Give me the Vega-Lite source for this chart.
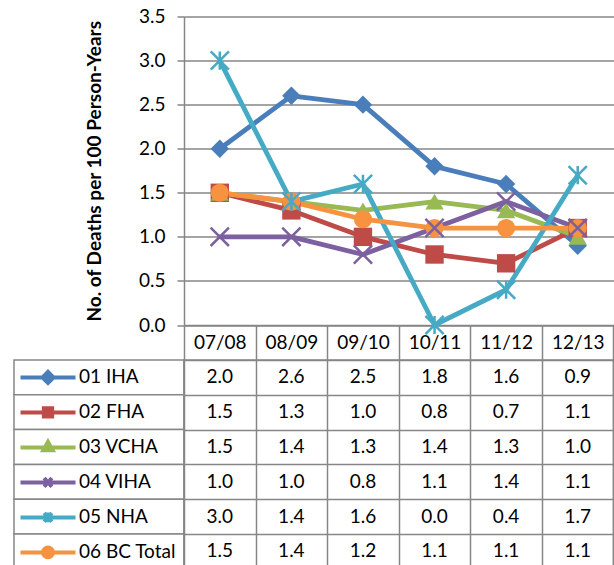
{
  "$schema": "https://vega.github.io/schema/vega-lite/v6.json",
  "padding": {"left": 13, "top": 7.5, "right": 0, "bottom": 0},
  "config": {
    "view": {"stroke": null},
    "font": "Lato",
    "text": {"font": "Lato"}
  },
  "datasets": {
    "d": [
      {"series": "01 IHA", "period": "07/08", "value": 2.0},
      {"series": "01 IHA", "period": "08/09", "value": 2.6},
      {"series": "01 IHA", "period": "09/10", "value": 2.5},
      {"series": "01 IHA", "period": "10/11", "value": 1.8},
      {"series": "01 IHA", "period": "11/12", "value": 1.6},
      {"series": "01 IHA", "period": "12/13", "value": 0.9},
      {"series": "02 FHA", "period": "07/08", "value": 1.5},
      {"series": "02 FHA", "period": "08/09", "value": 1.3},
      {"series": "02 FHA", "period": "09/10", "value": 1.0},
      {"series": "02 FHA", "period": "10/11", "value": 0.8},
      {"series": "02 FHA", "period": "11/12", "value": 0.7},
      {"series": "02 FHA", "period": "12/13", "value": 1.1},
      {"series": "03 VCHA", "period": "07/08", "value": 1.5},
      {"series": "03 VCHA", "period": "08/09", "value": 1.4},
      {"series": "03 VCHA", "period": "09/10", "value": 1.3},
      {"series": "03 VCHA", "period": "10/11", "value": 1.4},
      {"series": "03 VCHA", "period": "11/12", "value": 1.3},
      {"series": "03 VCHA", "period": "12/13", "value": 1.0},
      {"series": "04 VIHA", "period": "07/08", "value": 1.0},
      {"series": "04 VIHA", "period": "08/09", "value": 1.0},
      {"series": "04 VIHA", "period": "09/10", "value": 0.8},
      {"series": "04 VIHA", "period": "10/11", "value": 1.1},
      {"series": "04 VIHA", "period": "11/12", "value": 1.4},
      {"series": "04 VIHA", "period": "12/13", "value": 1.1},
      {"series": "05 NHA", "period": "07/08", "value": 3.0},
      {"series": "05 NHA", "period": "08/09", "value": 1.4},
      {"series": "05 NHA", "period": "09/10", "value": 1.6},
      {"series": "05 NHA", "period": "10/11", "value": 0.0},
      {"series": "05 NHA", "period": "11/12", "value": 0.4},
      {"series": "05 NHA", "period": "12/13", "value": 1.7},
      {"series": "06 BC Total", "period": "07/08", "value": 1.5},
      {"series": "06 BC Total", "period": "08/09", "value": 1.4},
      {"series": "06 BC Total", "period": "09/10", "value": 1.2},
      {"series": "06 BC Total", "period": "10/11", "value": 1.1},
      {"series": "06 BC Total", "period": "11/12", "value": 1.1},
      {"series": "06 BC Total", "period": "12/13", "value": 1.1}
    ]
  },
  "columns": 2,
  "spacing": {"row": 34.5, "column": 0},
  "bounds": "flush",
  "resolve": {
    "scale": {"color": "independent", "shape": "independent", "size": "independent", "fill": "independent", "stroke": "independent"},
    "legend": {"color": "independent", "shape": "independent", "size": "independent", "fill": "independent", "stroke": "independent"}
  },
  "concat": [
    {
      "width": 170,
      "height": 308.5,
      "data": {"values": []},
      "mark": "point"
    },
    {
      "width": 429.5,
      "height": 308.5,
      "data": {"name": "d"},
      "encoding": {
        "x": {
          "field": "period", "type": "nominal",
          "scale": {"type": "band", "paddingInner": 0, "paddingOuter": 0},
          "axis": {
            "orient": "bottom", "title": null, "labelAngle": 0,
            "labelFontSize": 19, "labelColor": "#000", "labelBaseline": "middle",
            "labelPadding": -17.25, "tickBand": "extent", "tickSize": 34.5,
            "tickColor": "#868686", "tickWidth": 1.5,
            "domainColor": "#868686", "domainWidth": 1.5, "grid": false
          }
        },
        "y": {
          "field": "value", "type": "quantitative",
          "scale": {"domain": [0, 3.5], "nice": false, "zero": true},
          "axis": {
            "title": "No. of Deaths per 100 Person-Years",
            "titleFontSize": 19, "titleFontWeight": "bold", "titleColor": "#000",
            "titlePadding": 34,
            "values": [0, 0.5, 1, 1.5, 2, 2.5, 3, 3.5], "format": ".1f",
            "labelFontSize": 19, "labelColor": "#000", "labelPadding": 12,
            "tickSize": 7, "tickColor": "#868686", "tickWidth": 1.5,
            "domainColor": "#868686", "domainWidth": 1.5,
            "grid": true, "gridColor": "#868686", "gridWidth": 1.5
          }
        }
      },
      "layer": [
        {
          "mark": {"type": "line", "strokeWidth": 4.8, "strokeJoin": "round", "strokeCap": "round"},
          "encoding": {
            "color": {
              "field": "series", "type": "nominal", "legend": null,
              "scale": {
                "domain": ["01 IHA", "02 FHA", "03 VCHA", "04 VIHA", "05 NHA", "06 BC Total"],
                "range": ["#4A7EBB", "#BE4B48", "#98B954", "#7D60A0", "#46AAC5", "#F69240"]
              }
            }
          }
        },
        {
          "transform": [{"filter": "datum.series != '04 VIHA' && datum.series != '05 NHA'"}],
          "mark": {"type": "point", "filled": true, "opacity": 1},
          "encoding": {
            "color": {
              "field": "series", "type": "nominal", "legend": null,
              "scale": {
                "domain": ["01 IHA", "02 FHA", "03 VCHA", "04 VIHA", "05 NHA", "06 BC Total"],
                "range": ["#4A7EBB", "#BE4B48", "#98B954", "#7D60A0", "#46AAC5", "#F69240"]
              }
            },
            "shape": {
              "field": "series", "type": "nominal", "legend": null,
              "scale": {
                "domain": ["01 IHA", "02 FHA", "03 VCHA", "04 VIHA", "05 NHA", "06 BC Total"],
                "range": ["diamond", "square", "triangle-up", "M-1,-1L1,1M-1,1L1,-1", "M-1,-1L1,1M-1,1L1,-1M0,-1L0,1", "circle"]
              }
            },
            "size": {
              "field": "series", "type": "nominal", "legend": null,
              "scale": {
                "domain": ["01 IHA", "02 FHA", "03 VCHA", "04 VIHA", "05 NHA", "06 BC Total"],
                "range": [340, 330, 330, 300, 330, 350]
              }
            }
          }
        },
        {
          "transform": [{"filter": "datum.series == '04 VIHA' || datum.series == '05 NHA'"}],
          "mark": {"type": "point", "filled": false, "opacity": 1, "strokeWidth": 2.5},
          "encoding": {
            "color": {
              "field": "series", "type": "nominal", "legend": null,
              "scale": {
                "domain": ["01 IHA", "02 FHA", "03 VCHA", "04 VIHA", "05 NHA", "06 BC Total"],
                "range": ["#4A7EBB", "#BE4B48", "#98B954", "#7D60A0", "#46AAC5", "#F69240"]
              }
            },
            "shape": {
              "field": "series", "type": "nominal", "legend": null,
              "scale": {
                "domain": ["01 IHA", "02 FHA", "03 VCHA", "04 VIHA", "05 NHA", "06 BC Total"],
                "range": ["diamond", "square", "triangle-up", "M-1,-1L1,1M-1,1L1,-1", "M-1,-1L1,1M-1,1L1,-1M0,-1L0,1", "circle"]
              }
            },
            "size": {
              "field": "series", "type": "nominal", "legend": null,
              "scale": {
                "domain": ["01 IHA", "02 FHA", "03 VCHA", "04 VIHA", "05 NHA", "06 BC Total"],
                "range": [340, 330, 330, 300, 330, 350]
              }
            }
          }
        }
      ]
    },
    {
      "width": 170,
      "height": 208.8,
      "data": {"name": "d"},
      "transform": [{"filter": "datum.period == '07/08'"}],
      "encoding": {
        "y": {
          "field": "series", "type": "nominal",
          "scale": {"type": "band", "paddingInner": 0, "paddingOuter": 0},
          "axis": null
        }
      },
      "layer": [
        {"mark": {"type": "rect", "fill": "white", "stroke": "#868686", "strokeWidth": 1.5}},
        {
          "mark": {"type": "point", "filled": true, "opacity": 0, "size": 3025, "strokeWidth": 4},
          "encoding": {
            "fill": {
              "field": "series", "type": "nominal",
              "scale": {
                "domain": ["01 IHA", "02 FHA", "03 VCHA", "04 VIHA", "05 NHA", "06 BC Total"],
                "range": ["#4A7EBB", "#BE4B48", "#98B954", "#7D60A0", "#46AAC5", "#F69240"]
              },
              "legend": {
                "orient": "none", "legendX": 4.5, "legendY": 0, "title": null,
                "labelFontSize": 19, "labelColor": "#000", "labelOffset": 1.5, "labelLimit": 200,
                "symbolSize": 3025, "symbolStrokeWidth": 4, "symbolOpacity": 1,
                "clipHeight": 34.8, "rowPadding": 0, "padding": 0
              }
            },
            "stroke": {
              "field": "series", "type": "nominal",
              "scale": {
                "domain": ["01 IHA", "02 FHA", "03 VCHA", "04 VIHA", "05 NHA", "06 BC Total"],
                "range": ["#4A7EBB", "#BE4B48", "#98B954", "#7D60A0", "#46AAC5", "#F69240"]
              },
              "legend": {
                "orient": "none", "legendX": 4.5, "legendY": 0, "title": null,
                "labelFontSize": 19, "labelColor": "#000", "labelOffset": 1.5, "labelLimit": 200,
                "symbolSize": 3025, "symbolStrokeWidth": 4, "symbolOpacity": 1,
                "clipHeight": 34.8, "rowPadding": 0, "padding": 0
              }
            },
            "shape": {
              "field": "series", "type": "nominal",
              "scale": {
                "domain": ["01 IHA", "02 FHA", "03 VCHA", "04 VIHA", "05 NHA", "06 BC Total"],
                "range": [
                  "M-1,0L1,0M0,-0.2L0.2,0L0,0.2L-0.2,0Z",
                  "M-1,0L1,0M-0.15,-0.15L0.15,-0.15L0.15,0.15L-0.15,0.15Z",
                  "M-1,0L1,0M0,-0.2L0.17,0.1L-0.17,0.1Z",
                  "M-1,0L1,0M-0.14,-0.16L0.14,0.16M-0.14,0.16L0.14,-0.16",
                  "M-1,0L1,0M-0.14,-0.16L0.14,0.16M-0.14,0.16L0.14,-0.16M0,-0.18L0,0.18",
                  "M-1,0L1,0M-0.18,0A0.18,0.18,0,1,0,0.18,0A0.18,0.18,0,1,0,-0.18,0Z"
                ]
              },
              "legend": {
                "orient": "none", "legendX": 4.5, "legendY": 0, "title": null,
                "labelFontSize": 19, "labelColor": "#000", "labelOffset": 1.5, "labelLimit": 200,
                "symbolSize": 3025, "symbolStrokeWidth": 4, "symbolOpacity": 1,
                "clipHeight": 34.8, "rowPadding": 0, "padding": 0
              }
            }
          }
        }
      ]
    },
    {
      "width": 429.5,
      "height": 208.8,
      "data": {"name": "d"},
      "view": {"stroke": "#868686", "strokeWidth": 1.5},
      "mark": {"type": "text", "fontSize": 19, "color": "#000", "baseline": "middle", "align": "center"},
      "encoding": {
        "x": {
          "field": "period", "type": "nominal",
          "scale": {"type": "band", "paddingInner": 0, "paddingOuter": 0},
          "axis": {"orient": "top", "grid": true, "tickBand": "extent", "labels": false, "ticks": false, "domain": false, "title": null, "gridColor": "#868686", "gridWidth": 1.5}
        },
        "y": {
          "field": "series", "type": "nominal",
          "scale": {"type": "band", "paddingInner": 0, "paddingOuter": 0},
          "axis": {"grid": true, "tickBand": "extent", "labels": false, "ticks": false, "domain": false, "title": null, "gridColor": "#868686", "gridWidth": 1.5}
        },
        "text": {"field": "value", "type": "quantitative", "format": ".1f"}
      }
    }
  ]
}
